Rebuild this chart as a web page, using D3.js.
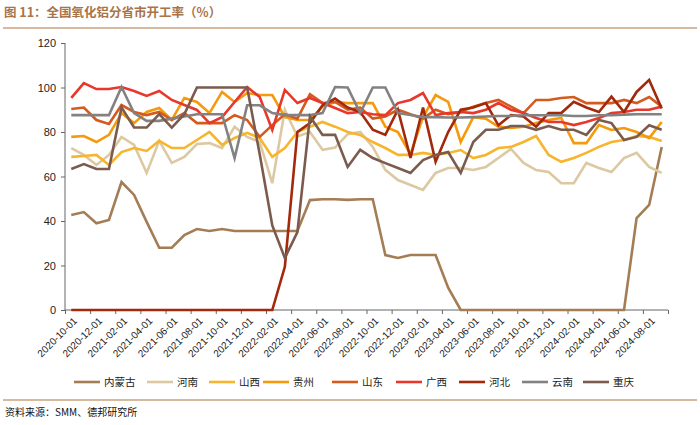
<!DOCTYPE html>
<html>
<head>
<meta charset="utf-8">
<script src="https://cdn.jsdelivr.net/npm/d3@7"></script>
<style>
  body { margin: 0; background: #fff; }
  svg text { font-family: "Liberation Sans", "Noto Sans CJK SC", sans-serif; }
</style>
</head>
<body>
<svg id="chart" width="700" height="425"></svg>
<script>
// tick labels, one every two months (48 monthly points 2020-10 .. 2024-09)
const tickLabels = ['2020-10-01','2020-12-01','2021-02-01','2021-04-01','2021-06-01','2021-08-01',
  '2021-10-01','2021-12-01','2022-02-01','2022-04-01','2022-06-01','2022-08-01',
  '2022-10-01','2022-12-01','2023-02-01','2023-04-01','2023-06-01','2023-08-01',
  '2023-10-01','2023-12-01','2024-02-01','2024-04-01','2024-06-01','2024-08-01'];
const yTicks = [0, 20, 40, 60, 80, 100, 120];

const names = ['内蒙古','河南','山西','贵州','山东','广西','河北','云南','重庆'];
const colors = ['#A47D55','#DCC9A2','#F7B52E','#F59A0C','#D55A1E','#E8382C','#A3290C','#828282','#7A5B4E'];

const neimenggu = [42.7,44,39,40.5,57.5,51.7,39.6,28,28,33.7,36.4,35.5,36.4,35.5,35.5,35.5,35.5,35.5,35.5,49.4,49.8,49.8,49.5,49.8,49.8,24.7,23.4,24.7,24.7,24.7,10,0,0,0,0,0,0,0,0,0,0,0,0,0,0,41.3,47.2,73.3];
const henan = [72.8,69.7,65.2,69.7,77.8,74.2,61.6,76,66.1,68.8,74.6,75,72.8,82.4,77.8,75.5,57,90,78,80,72,73,79,80,73.3,63,58.4,56.2,54,61.6,63.8,63.8,62.9,64.3,68.3,72.4,66.1,62.9,62,57,57,66.1,63.8,62,68.3,70.6,64.3,61.6];
const shanxi = [68.8,69.2,69.7,65.2,71,72.8,71.5,76,72.8,72.8,76.4,80,74.2,77.3,79.6,77.3,68.8,72.8,80,82.4,84.5,82.4,80,78.7,75.5,72.8,69.7,69.7,70.6,69.7,70.6,71.9,68.3,69.7,72.8,73.3,75.5,78.2,69.7,66.6,68.3,70.6,73.3,75.5,76.4,78.2,77.8,76];
const guizhou = [77.8,78.2,75.5,78.7,88.5,84,89,90.8,85.4,95.3,93.5,88.5,98,93.5,97.5,96.6,96.6,86.7,85.4,85.4,91.4,93.5,93,93,93,82.4,80,70,86.7,96.6,93.5,75.5,86.7,86,82.4,81.8,82.4,84,85.4,86.3,75,75,83.1,80.9,81.8,80,77.3,84.5];
const shandong = [90.3,91,85.4,83.6,92.1,89,87.6,89,85.4,88.5,84,84,84,87.6,85.4,77.8,83.1,88,86,97,93,93.5,90,91,86,87,90,88,86,90,88,89,91.4,93,94.4,91.4,88.5,94.4,94.4,95.3,95.7,93,93,93,94.4,93,95.7,91.4];
const guangxi = [95.3,102,99.3,99.3,100.2,98.4,96.2,98.4,94.4,92.1,89.9,84,86.7,93.5,100.2,95.7,80.9,98.9,93,95.3,93,90.8,88.5,89,88,87.6,93,94.4,97.5,87.6,88.5,89,88.5,90,93,90,88.5,86.3,84.5,84.5,83.1,84.5,86.3,88.5,89,90,90,91.4];
const hebei = [0,0,0,0,0,0,0,0,0,0,0,0,0,0,0,0,0,19.4,80,84,92,95,91,89,81,78.7,90,68.3,91,66.6,80,90,91,93,83,87.6,87,82.4,88.5,88.5,93.6,91,89,95.9,89,98,103.4,90.6];
const yunnan = [87.6,87.6,87.6,87.6,100.2,88.5,85,85,86,87,88,88,88,68.3,92,92,88.5,87.6,87.6,87.6,88.5,100.2,100,88.5,100,100,88.5,87.6,86.7,86.7,86.5,86.5,86.7,87,87.2,87.2,87.5,87.5,87.5,87.5,87.2,87.2,87.5,87.5,87.8,88,88,88];
const chongqing = [63.4,65.6,63.4,63.4,91,82,82,88,82,88,100,100,100,100,100,70,38,23.4,35,87,78.7,78.7,64.3,72,68.3,66,63.8,61.6,67.4,69.7,71,61.6,75.5,81,81,82.7,82.7,81,82.7,81,81,78.7,85.4,84,76.4,77.8,83,81];

const seriesValues = [neimenggu, henan, shanxi, guizhou, shandong, guangxi, hebei, yunnan, chongqing];
const nPoints = neimenggu.length;

const svg = d3.select('#chart');
const plotLeft = 65, plotRight = 668, plotTop = 43, plotBottom = 310;

const x = d3.scaleLinear().domain([0, nPoints]).range([plotLeft, plotRight]);
const y = d3.scaleLinear().domain([0, 120]).range([plotBottom, plotTop]);

// title + rules
svg.append('text')
  .attr('x', 4).attr('y', 17)
  .style('font-family', '"Noto Sans CJK SC", sans-serif')
  .style('font-size', '12.5px').style('font-weight', 'bold')
  .attr('fill', '#A8744A')
  .text('图 11：全国氧化铝分省市开工率（%）');
svg.append('line').attr('x1', 3).attr('x2', 697).attr('y1', 28).attr('y2', 28)
  .attr('stroke', '#C9A27E').attr('stroke-width', 1.5);
svg.append('line').attr('x1', 3).attr('x2', 697).attr('y1', 400).attr('y2', 400)
  .attr('stroke', '#C9A27E').attr('stroke-width', 1.5);
svg.append('text')
  .attr('x', 5).attr('y', 416)
  .style('font-family', '"Noto Sans CJK SC", sans-serif')
  .style('font-size', '10px').attr('fill', '#111')
  .text('资料来源：SMM、德邦研究所');

// y axis
const yAxis = svg.append('g')
  .attr('transform', `translate(${plotLeft},0)`)
  .call(d3.axisLeft(y).tickValues(yTicks).tickSize(4).tickPadding(5));
yAxis.selectAll('text').style('font-size', '11px').attr('fill', '#222');
yAxis.selectAll('line, path').attr('stroke', '#666');
yAxis.select('.domain').attr('d', `M0,${plotBottom}V${plotTop}`);

// x axis: ticks between categories, labels on every other category
const xAxis = svg.append('g')
  .attr('transform', `translate(0,${plotBottom})`)
  .call(d3.axisBottom(x).tickValues(d3.range(0, nPoints + 1, 2)).tickSize(4).tickFormat(''));
xAxis.selectAll('line, path').attr('stroke', '#666');
xAxis.select('.domain').attr('d', `M${plotLeft},0H${plotRight}`);

svg.append('g').selectAll('text')
  .data(tickLabels)
  .join('text')
  .attr('transform', (d, i) => `translate(${x(i * 2 + 0.5) + 4},${plotBottom + 9}) rotate(-45)`)
  .attr('text-anchor', 'end')
  .attr('dy', '0.35em')
  .style('font-size', '10px')
  .attr('fill', '#222')
  .text(d => d);

// lines
const line = d3.line()
  .x((d, i) => x(i + 0.5))
  .y(d => y(d));

svg.append('g').selectAll('path')
  .data(seriesValues)
  .join('path')
  .attr('d', d => line(d))
  .attr('fill', 'none')
  .attr('stroke', (d, i) => colors[i])
  .attr('stroke-width', 2.6)
  .attr('stroke-linejoin', 'miter');

// legend
const legendX = [74, 147, 209, 263, 332, 396, 459, 522, 583];
const legend = svg.append('g').selectAll('g')
  .data(names)
  .join('g')
  .attr('transform', (d, i) => `translate(${legendX[i]},382)`);
legend.append('line')
  .attr('x1', 0).attr('x2', 26)
  .attr('stroke', (d, i) => colors[i])
  .attr('stroke-width', 2.6);
legend.append('text')
  .attr('x', 30).attr('dy', '0.35em')
  .style('font-family', '"Noto Sans CJK SC", sans-serif')
  .style('font-size', '10.5px').attr('fill', '#222')
  .text(d => d);
</script>
</body>
</html>
